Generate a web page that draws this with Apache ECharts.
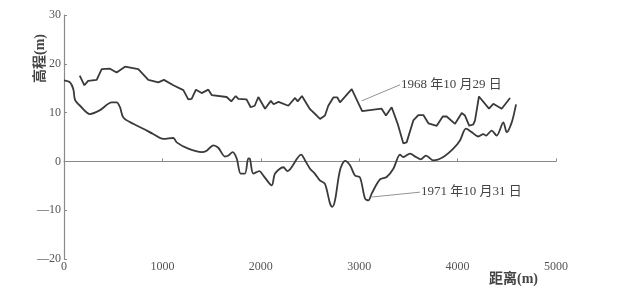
<!DOCTYPE html>
<html><head><meta charset="utf-8">
<script src="https://cdn.jsdelivr.net/npm/echarts@6/dist/echarts.min.js"></script>
<style>html,body{margin:0;padding:0;background:#fff}#c{width:634px;height:301px}</style>
</head><body><div id="c"></div>
<script>
const dist1968 = [160,207,245,332,383,467,535,620,755,857,958,1016,1111,1213,1263,1297,1341,1399,1467,1501,1653,1700,1745,1772,1855,1897,1938,1975,2043,2102,2130,2180,2280,2348,2375,2418,2500,2568,2602,2652,2686,2737,2778,2805,2924,3030,3228,3272,3330,3391,3448,3482,3550,3601,3652,3703,3788,3849,3889,3974,4042,4075,4119,4160,4177,4217,4319,4363,4448,4533];
const elev1968 = [17.6,15.6,16.5,16.7,18.9,19.0,18.2,19.4,18.9,16.7,16.2,16.7,15.6,14.6,12.7,12.8,14.7,14.0,14.7,13.6,13.2,12.3,13.4,12.8,12.7,11.1,11.4,13.2,10.8,12.4,11.7,12.2,11.4,13.0,12.3,13.4,10.7,9.4,8.7,9.4,11.4,13.1,13.1,12.1,14.8,10.3,10.8,9.4,11.1,7.7,3.7,3.9,8.4,9.5,9.5,7.8,7.3,9.2,9.2,7.7,9.9,9.4,7.3,7.6,8.4,13.3,10.8,11.8,10.8,13.0];
const dist1971 = [0,61,95,112,163,264,366,485,535,569,603,704,806,907,1009,1111,1145,1263,1399,1450,1518,1568,1636,1670,1714,1755,1796,1839,1873,1890,1924,1985,2026,2111,2145,2229,2270,2410,2450,2500,2549,2600,2652,2703,2727,2754,2805,2856,2907,2957,3008,3059,3093,3127,3211,3279,3347,3415,3448,3516,3577,3625,3679,3753,3855,3956,4024,4085,4143,4211,4262,4289,4346,4397,4465,4499,4550,4594];
const elev1971 = [16.6,16.2,14.8,12.6,11.4,9.7,10.5,12.1,12.1,11.1,9.0,7.7,6.7,5.6,4.6,4.8,3.9,2.6,1.9,2.2,3.3,2.8,1.0,1.2,1.9,0.6,-2.5,-2.5,0.6,0.5,-2.5,-2.0,-2.9,-4.9,-2.5,-1.2,-2.0,1.4,0.2,-1.5,-2.5,-3.9,-4.6,-8.6,-9.3,-8.0,-1.8,0.1,-0.8,-2.9,-3.3,-7.6,-8.0,-6.6,-3.7,-3.2,-1.5,1.4,0.9,1.6,0.9,0.4,1.2,0.2,0.9,2.6,4.3,6.7,6.0,5.1,5.6,5.3,6.3,5.3,8.0,6.0,8.0,11.7];
const label1968 = '1968 年10 月29 日';
const label1971 = '1971 年10 月31 日';
const leader1968 = [[3025, 12.4], [3415, 15.7]];
const leader1971 = [[3127, -7.3], [3618, -6.3]];
const xTitle = '距离(m)';
const yTitle = '高程(m)';

const serif = "'Liberation Serif','Noto Sans CJK SC',serif";
const zip = (a, b) => a.map((v, i) => [v, b[i]]);
const chart = echarts.init(document.getElementById('c'));
const axisCol = '#8a8a8a', txtCol = '#555';
function leader(pts, text) {
  return {
    silent: true, symbol: 'none', animation: false,
    lineStyle: { color: '#777', width: 0.8, type: 'solid' },
    label: { show: true, position: 'end', distance: 1, formatter: text,
      color: '#444', fontSize: 13, fontFamily: serif },
    data: [[{ coord: pts[0] }, { coord: pts[1] }]]
  };
}
chart.setOption({
  animation: false,
  grid: { left: 64, right: 78, top: 15, bottom: 42 },
  xAxis: {
    type: 'value', min: 0, max: 5000, interval: 1000,
    axisLine: { lineStyle: { color: axisCol, width: 1.2 } },
    axisTick: { show: true, inside: true, length: 3, lineStyle: { color: axisCol } },
    axisLabel: { color: txtCol, fontSize: 12, fontFamily: serif, margin: 2, formatter: v => String(v) },
    splitLine: { show: false }
  },
  yAxis: {
    type: 'value', min: -20, max: 30, interval: 10,
    axisLine: { show: true, lineStyle: { color: axisCol, width: 1.2 } },
    axisTick: { show: true, inside: true, length: 3, lineStyle: { color: axisCol } },
    axisLabel: { color: txtCol, fontSize: 12, fontFamily: serif, margin: 3,
      formatter: v => v < 0 ? '\u2014' + Math.abs(v) : String(v) },
    splitLine: { show: false }
  },
  graphic: [
    { type: 'text', left: 489, top: 272, style: { text: xTitle, fill: '#444', font: "bold 14px " + serif } },
    { type: 'text', x: 33, y: 83, rotation: Math.PI / 2, style: { text: yTitle, fill: '#444', font: "bold 14px " + serif } }
  ],
  series: [
    { type: 'line', name: label1968, data: zip(dist1968, elev1968), showSymbol: false,
      lineStyle: { color: '#3a3a3a', width: 1.8 }, markLine: leader(leader1968, label1968) },
    { type: 'line', name: label1971, data: zip(dist1971, elev1971), showSymbol: false, smooth: 0.3,
      lineStyle: { color: '#3a3a3a', width: 1.8 }, markLine: leader(leader1971, label1971) }
  ]
});
</script></body></html>
